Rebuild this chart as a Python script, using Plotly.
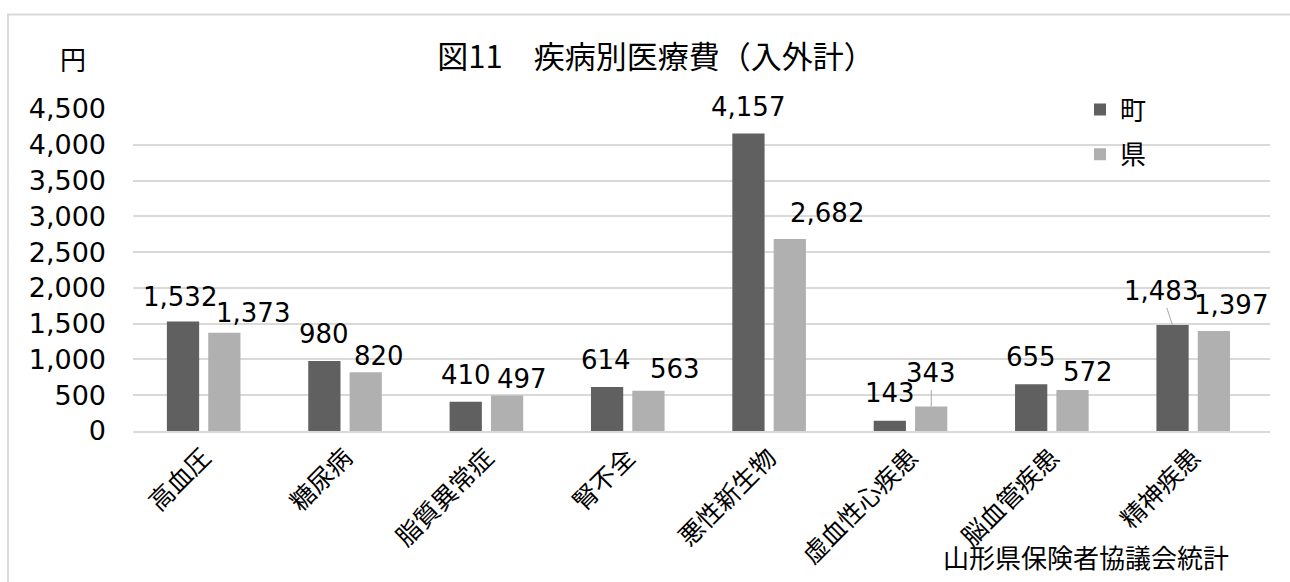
import plotly.graph_objects as go

# ---- data ----
categories = ["高血圧", "糖尿病", "脂質異常症", "腎不全", "悪性新生物", "虚血性心疾患", "脳血管疾患", "精神疾患"]
town_values = [1532, 980, 410, 614, 4157, 143, 655, 1483]
pref_values = [1373, 820, 497, 563, 2682, 343, 572, 1397]
series_names = ["町", "県"]
y_ticks = [0, 500, 1000, 1500, 2000, 2500, 3000, 3500, 4000, 4500]

title_text = "図11　疾病別医療費（入外計）"
unit_text = "円"
source_text = "山形県保険者協議会統計"

# ---- styling / layout constants ----
W, H = 1290, 582
L, R, T, B = 133, 20, 109, 149
PW, PH = W - L - R, H - T - B
BARGAP, GROUPGAP = 0.415, 0.22
DARK, LIGHT = "#606060", "#b0b0b0"
GRID = "#d9d9d9"
NUM_FONT = "DejaVu Sans, Noto Sans CJK JP"
JP_FONT = "Noto Sans CJK JP, DejaVu Sans"

# label offsets (dx, dy_up, leader) in pixels relative to bar top centre
town_label_off = [(-3, 24, False), (0, 26.5, False), (0, 26.5, False), (-1, 27.5, False),
                  (0, 27, False), (0, 28, False), (0, 27.5, False), (-11, 33.5, True)]
pref_label_off = [(28.5, 19.5, False), (13, 16, False), (15, 16.5, False), (26, 21.5, False),
                  (37, 26, False), (0, 33, True), (15, 18.5, False), (17, 26, False)]


def px_x(px):
    return (px - L) / PW


def px_y(py):
    return (H - B - py) / PH


fig = go.Figure()
fig.add_trace(go.Bar(name=series_names[0], x=categories, y=town_values,
                     marker=dict(color=DARK, line=dict(width=0)), legendgroup="a"))
fig.add_trace(go.Bar(name=series_names[1], x=categories, y=pref_values,
                     marker=dict(color=LIGHT, line=dict(width=0)), legendgroup="b"))

cat_w = PW / len(categories)
slot = (1 - BARGAP) * cat_w / 2
annotations = []
for vals, offs, shift in ((town_values, town_label_off, -slot / 2), (pref_values, pref_label_off, slot / 2)):
    for cat, v, (dx, dy, leader) in zip(categories, vals, offs):
        annotations.append(dict(
            x=cat, y=v, xref="x", yref="y", xshift=shift,
            text=f"{v:,}", showarrow=True, ax=dx, ay=-dy,
            arrowhead=0, arrowwidth=1,
            arrowcolor="#a6a6a6" if leader else "rgba(0,0,0,0)",
            font=dict(family=NUM_FONT, size=26, color="#000000"),
        ))

annotations.append(dict(x=px_x(73), y=px_y(58), xref="paper", yref="paper", text=unit_text,
                        showarrow=False, xanchor="center", yanchor="middle",
                        font=dict(family=JP_FONT, size=26, color="#000000")))
annotations.append(dict(x=px_x(941), y=px_y(580), xref="paper", yref="paper", text=source_text,
                        showarrow=False, xanchor="left", yanchor="bottom",
                        font=dict(family=JP_FONT, size=26, color="#000000")))

fig.update_layout(
    width=W, height=H,
    margin=dict(l=L, r=R, t=T, b=B, pad=0),
    paper_bgcolor="white", plot_bgcolor="white",
    barmode="group", bargap=BARGAP, bargroupgap=GROUPGAP,
    title=dict(text=title_text, x=656 / W, xanchor="center", y=1 - 57 / H, yanchor="middle",
               xref="container", yref="container",
               font=dict(family=JP_FONT, size=31, color="#000000")),
    xaxis=dict(type="category", tickangle=-45, showgrid=False, showline=True,
               linecolor=GRID, linewidth=2, ticks="", zeroline=False,
               tickfont=dict(family=JP_FONT, size=25, color="#000000")),
    yaxis=dict(range=[0, 4500], tickvals=y_ticks, tickformat=",", showgrid=True,
               gridcolor=GRID, gridwidth=2, zeroline=False, showline=False, ticks="",
               ticklabelstandoff=26,
               tickfont=dict(family=NUM_FONT, size=27, color="#000000")),
    legend=dict(x=px_x(1080), y=px_y(86), xanchor="left", yanchor="top",
                orientation="v", tracegroupgap=8, bgcolor="rgba(0,0,0,0)",
                font=dict(family=JP_FONT, size=26, color="#000000")),
    annotations=annotations,
    shapes=[dict(type="rect", xref="paper", yref="paper",
                 x0=px_x(8), x1=px_x(1300), y0=px_y(600), y1=px_y(14),
                 line=dict(color=GRID, width=2), fillcolor="rgba(0,0,0,0)", layer="below")],
    showlegend=True,
)

fig.write_html("out.html")
